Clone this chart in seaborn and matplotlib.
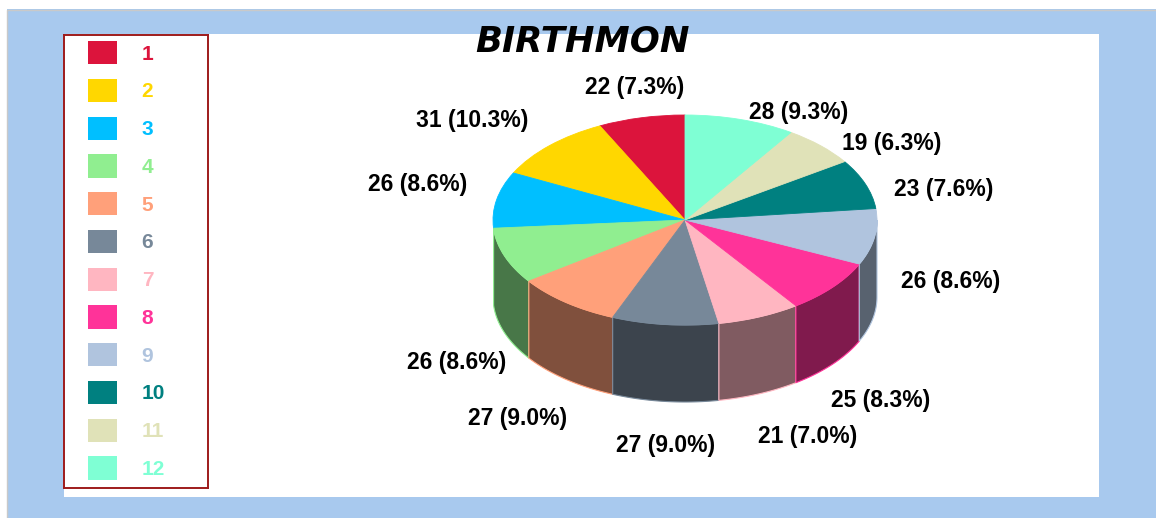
import numpy as np
import matplotlib
matplotlib.use("Agg")
import matplotlib.pyplot as plt
from matplotlib.patches import Rectangle, Patch
import matplotlib.colors as mcolors
import seaborn as sns

# Birth month counts
months = ["1", "2", "3", "4", "5", "6", "7", "8", "9", "10", "11", "12"]
counts = [22, 31, 26, 26, 27, 27, 21, 25, 26, 23, 19, 28]
month_colors = ["#DC143C", "#FFD700", "#00BFFF", "#90EE90", "#FFA07A", "#778899",
                "#FFB6C1", "#FF3399", "#B0C4DE", "#008080", "#E0E2B8", "#7FFFD4"]
title = "BIRTHMON"

sns.set_theme(style="white")
palette = sns.color_palette(month_colors)
plt.rcParams["font.family"] = ["Liberation Sans", "DejaVu Sans"]

W, H = 1156, 518
fig = plt.figure(figsize=(W / 100, H / 100), dpi=100)
fig.patch.set_facecolor("white")

# background frame drawn in pixel coordinates
bg = fig.add_axes([0, 0, 1, 1])
bg.set_xlim(0, W)
bg.set_ylim(H, 0)
bg.axis("off")
bg.add_patch(Rectangle((7, 9), W - 7, H - 9, facecolor="#A8C9EE", edgecolor="none"))
bg.plot([6.5, 6.5, W], [H, 9.5, 9.5], color="#C9C9C9", lw=1)
bg.add_patch(Rectangle((64, 34), 1035, 463, facecolor="white", edgecolor="none"))

# 3-D pie geometry (pixels)
cx, cy, rx, ry, depth = 685, 220, 192, 105, 77
d = depth / ry

ax = fig.add_axes([0, 0, 1, 1])
ax.patch.set_alpha(0)
wedges, _ = ax.pie(counts, colors=palette, startangle=90, counterclock=True,
                   radius=1, center=(0, 0),
                   wedgeprops=dict(linewidth=0.6, zorder=3))
for w, c in zip(wedges, palette):
    w.set_edgecolor(c)
ax.set_aspect("auto")
ax.set_xlim(-cx / rx, (W - cx) / rx)
ax.set_ylim((cy - H) / ry, cy / ry)
ax.axis("off")

# visible side walls of the front half
for w, c in zip(wedges, palette):
    dark = tuple(0.5 * v for v in mcolors.to_rgb(c))
    for off in (0, 360):
        lo = max(w.theta1, 180 + off)
        hi = min(w.theta2, 360 + off)
        if hi > lo:
            t = np.radians(np.linspace(lo, hi, 80))
            span_px = rx * abs(np.cos(t[0]) - np.cos(t[-1]))
            if span_px < 2:
                continue
            xs = np.concatenate([np.cos(t), np.cos(t[::-1])])
            ys = np.concatenate([np.sin(t), np.sin(t[::-1]) - d])
            ax.fill(xs, ys, facecolor=dark, edgecolor=c, lw=0.8, zorder=2)

# value labels around the pie
total = sum(counts)
for w, n in zip(wedges, counts):
    mid = np.radians((w.theta1 + w.theta2) / 2)
    c, s = np.cos(mid), np.sin(mid)
    if s >= 0:
        px = cx + 222 * c
        py = cy - 124 * s
        va = "top" if c > 0 else "bottom"
    else:
        k = min(1.0, 3 * abs(s)) ** 1.5
        px = cx + (222 - 32 * k * k) * c
        py = cy + (depth + 10) * k + 128 * abs(s)
        va = "top"
    ha = "left" if c > 0.25 else ("right" if c < -0.25 else "center")
    ax.text((px - cx) / rx, (cy - py) / ry, f"{n} ({100 * n / total:.1f}%)",
            ha=ha, va=va, fontsize=16.5, fontweight="bold", color="black", zorder=5)

# title
bg.text(582, 51, title, ha="center", va="baseline", fontsize=25.5,
        fontweight="bold", fontstyle="italic", family="DejaVu Sans", color="black")

# legend panel
lax = fig.add_axes([64 / W, (H - 488) / H, 144 / W, (488 - 35) / H])
lax.set_xticks([])
lax.set_yticks([])
lax.patch.set_alpha(0)
for sp in lax.spines.values():
    sp.set_color("#9E1B1B")
    sp.set_linewidth(1.4)
handles = [Patch(facecolor=c, edgecolor="none") for c in palette]
leg = lax.legend(handles, months, loc="upper left", bbox_to_anchor=(24 / 144, 1 - 6 / 453),
                 frameon=False, borderpad=0, borderaxespad=0,
                 handlelength=1.38, handleheight=1.35, handletextpad=1.2,
                 labelspacing=0.69, prop=dict(size=15, weight="bold"))
for txt, c in zip(leg.get_texts(), palette):
    txt.set_color(c)

fig.savefig("out.png", dpi=100)
